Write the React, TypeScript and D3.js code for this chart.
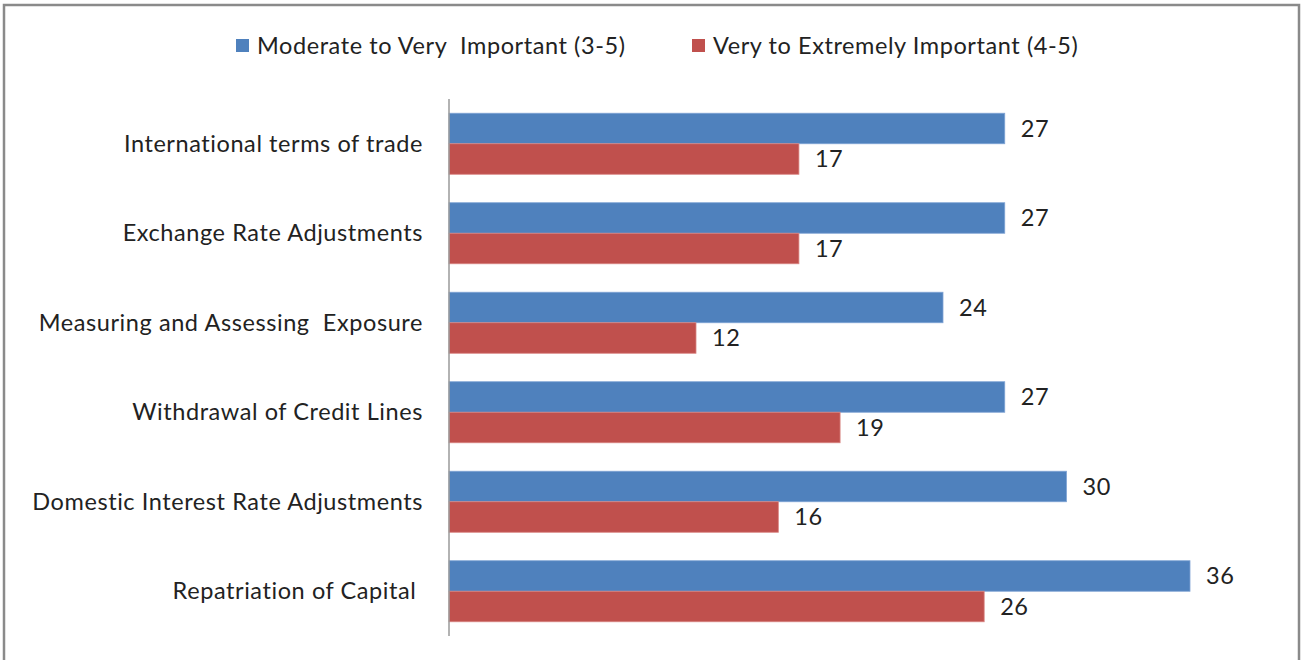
import React from "react";
import * as d3 from "d3";

const categories = [
  "International terms of trade",
  "Exchange Rate Adjustments",
  "Measuring and Assessing  Exposure",
  "Withdrawal of Credit Lines",
  "Domestic Interest Rate Adjustments",
  "Repatriation of Capital ",
];
const seriesNames = ["Moderate to Very  Important (3-5)", "Very to Extremely Important (4-5)"];
const moderateValues = [27, 27, 24, 27, 30, 36];
const veryValues = [17, 17, 12, 19, 16, 26];
const seriesColors = ["#4F81BD", "#C0504D"];
const seriesStroke = ["#7FA3D4", "#D88582"];

const W = 1304;
const H = 660;
const FONT = "Lato, 'Open Sans', sans-serif";
const FS = 23.5;
const LS = 0.58;

export default function App() {
  const x = d3.scaleLinear().domain([0, 36]).range([449, 1190]);
  const y = d3
    .scaleBand<string>()
    .domain(categories)
    .range([99, 636])
    .paddingInner(0.318)
    .paddingOuter(0.159);
  const inner = d3.scaleBand<number>().domain([0, 1]).range([0, y.bandwidth()]);
  const series = [moderateValues, veryValues];

  return (
    <svg
      width={W}
      height={H}
      style={{ position: "absolute", left: 0, top: 0, background: "#fff" }}
      fontFamily={FONT}
      letterSpacing={LS}
    >
      <rect x={0} y={0} width={W} height={H} fill="#fff" />
      <rect x={4} y={5} width={1295} height={700} fill="none" stroke="#8a8a8a" strokeWidth={2.5} />

      {/* legend */}
      <g>
        <rect x={236} y={39} width={13} height={13} fill={seriesColors[0]} />
        <text x={257} y={45.5} dy="0.35em" fontSize={FS} fill="#222" style={{ whiteSpace: "pre" }}>
          {seriesNames[0]}
        </text>
        <rect x={692} y={39} width={13} height={13} fill={seriesColors[1]} />
        <text x={713} y={45.5} dy="0.35em" fontSize={FS} fill="#222" style={{ whiteSpace: "pre" }}>
          {seriesNames[1]}
        </text>
      </g>

      {/* bars */}
      {categories.map((c, i) => (
        <g key={c}>
          {series.map((vals, s) => {
            const by = (y(c) as number) + (inner(s) as number);
            return (
              <g key={s}>
                <rect
                  x={x(0)}
                  y={by}
                  width={x(vals[i]) - x(0)}
                  height={inner.bandwidth()}
                  fill={seriesColors[s]}
                  stroke={seriesStroke[s]}
                  strokeWidth={0.8}
                />
                <text
                  x={x(vals[i]) + 16}
                  y={by + inner.bandwidth() / 2}
                  dy="0.35em"
                  fontSize={FS}
                  fill="#222"
                >
                  {vals[i]}
                </text>
              </g>
            );
          })}
          <text
            x={423}
            y={(y(c) as number) + y.bandwidth() / 2}
            dy="0.35em"
            textAnchor="end"
            fontSize={FS}
            fill="#222"
            style={{ whiteSpace: "pre" }}
          >
            {c}
          </text>
        </g>
      ))}

      {/* axis line */}
      <line x1={449} x2={449} y1={99} y2={636} stroke="#9a9a9a" strokeWidth={1.5} />
    </svg>
  );
}
